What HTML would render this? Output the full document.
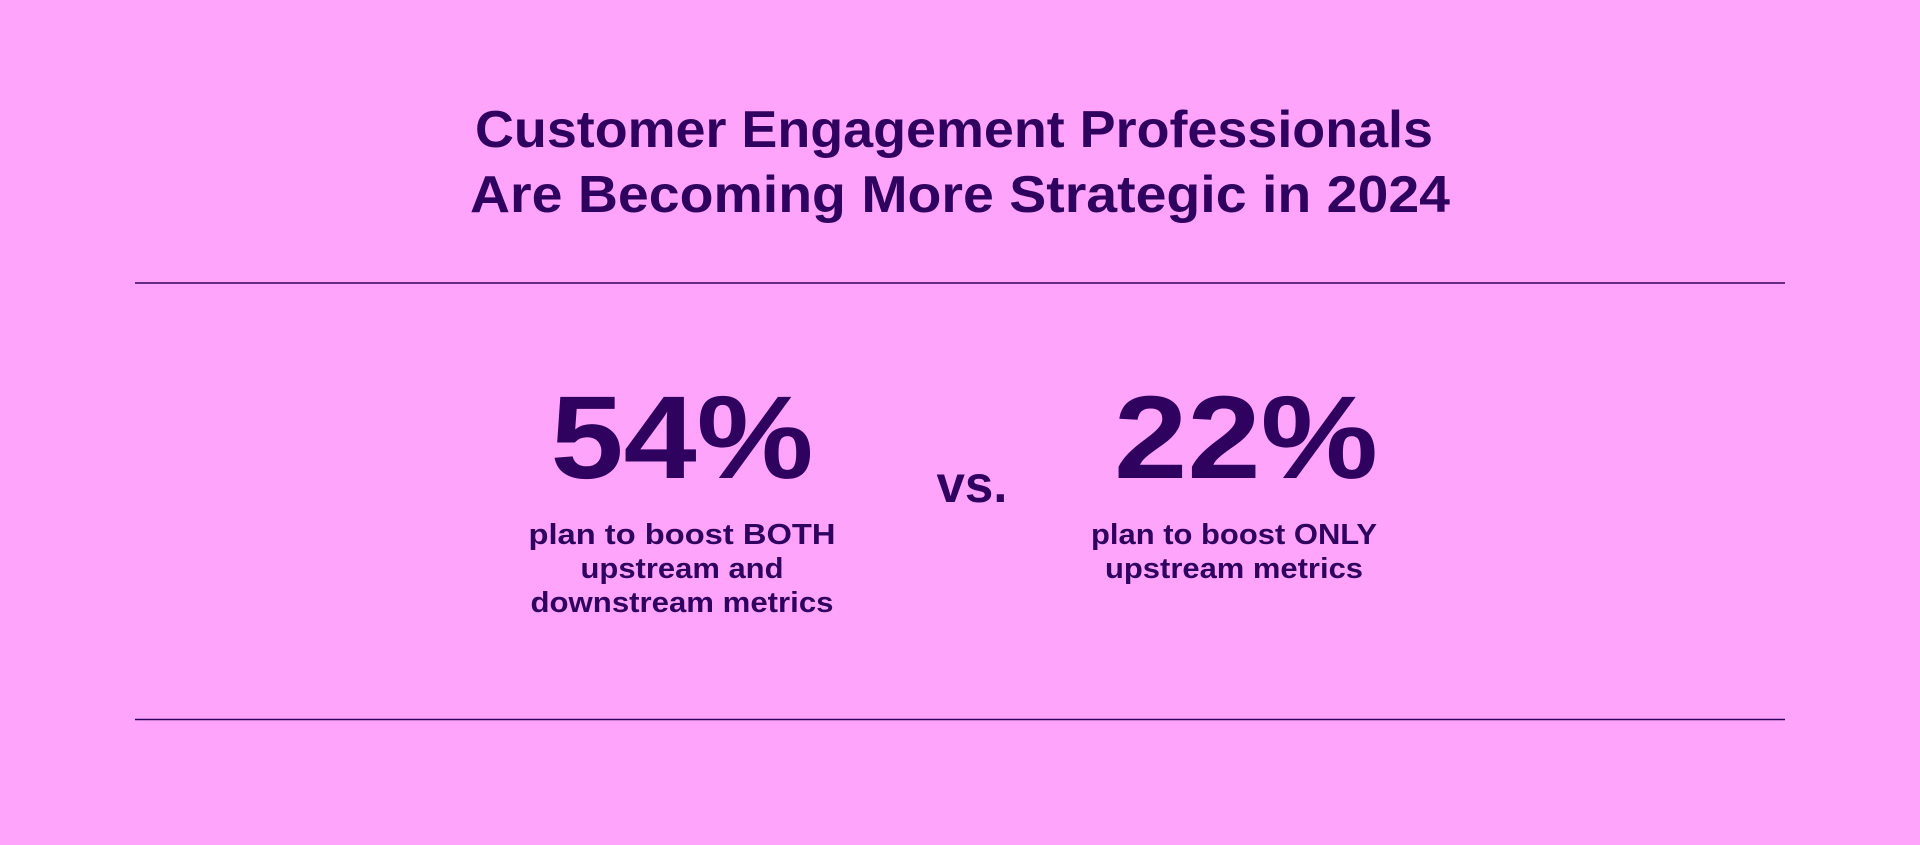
<!DOCTYPE html>
<html><head><meta charset="utf-8"><style>
html,body{margin:0;padding:0;background:#FFA4FA;}
svg{display:block}
text{font-family:"Liberation Sans",sans-serif;font-weight:bold;fill:#30025F;text-anchor:middle}
</style></head><body>
<svg width="1920" height="845" viewBox="0 0 1920 845">
<rect width="1920" height="845" fill="#FFA4FA"/>
<text x="954" y="147" font-size="52" textLength="958" lengthAdjust="spacingAndGlyphs">Customer Engagement Professionals</text>
<text x="960" y="212" font-size="52" textLength="980" lengthAdjust="spacingAndGlyphs">Are Becoming More Strategic in 2024</text>
<line x1="135" y1="283" x2="1785" y2="283" stroke="#30025F" stroke-width="1.5"/>
<line x1="135" y1="719.5" x2="1785" y2="719.5" stroke="#30025F" stroke-width="1.5"/>
<text x="682" y="478" font-size="118" textLength="263" lengthAdjust="spacingAndGlyphs">54%</text>
<text x="1246" y="478" font-size="118" textLength="264" lengthAdjust="spacingAndGlyphs">22%</text>
<text x="972" y="502" font-size="52" textLength="71" lengthAdjust="spacingAndGlyphs">vs.</text>
<text x="682" y="544" font-size="29" textLength="307" lengthAdjust="spacingAndGlyphs">plan to boost BOTH</text>
<text x="682" y="578" font-size="29" textLength="203" lengthAdjust="spacingAndGlyphs">upstream and</text>
<text x="682" y="612" font-size="29" textLength="303" lengthAdjust="spacingAndGlyphs">downstream metrics</text>
<text x="1234" y="544" font-size="29" textLength="286" lengthAdjust="spacingAndGlyphs">plan to boost ONLY</text>
<text x="1234" y="578" font-size="29" textLength="258" lengthAdjust="spacingAndGlyphs">upstream metrics</text>
</svg>
</body></html>
